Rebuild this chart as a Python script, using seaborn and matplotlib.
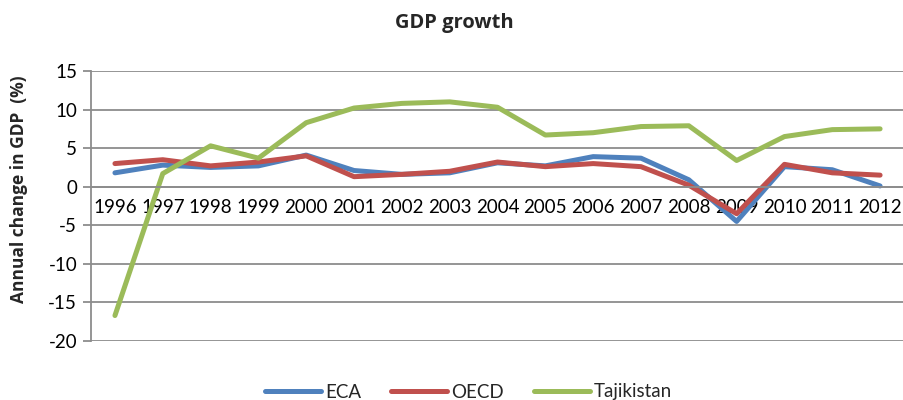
import matplotlib
matplotlib.use("Agg")
import matplotlib.pyplot as plt
import seaborn as sns
import pandas as pd
import numpy as np

years = ["1996", "1997", "1998", "1999", "2000", "2001", "2002", "2003", "2004",
         "2005", "2006", "2007", "2008", "2009", "2010", "2011", "2012"]
eca = [1.8, 2.8, 2.5, 2.7, 4.1, 2.1, 1.6, 1.8, 3.1, 2.7, 3.9, 3.7, 0.9, -4.5, 2.6, 2.2, 0.1]
oecd = [3.0, 3.5, 2.7, 3.2, 4.0, 1.3, 1.6, 2.0, 3.2, 2.6, 3.0, 2.6, 0.2, -3.5, 2.9, 1.8, 1.5]
tajikistan = [-16.7, 1.7, 5.3, 3.7, 8.3, 10.2, 10.8, 11.0, 10.3, 6.7, 7.0, 7.8, 7.9, 3.4, 6.5, 7.4, 7.5]
series_names = ["ECA", "OECD", "Tajikistan"]
colors = ["#4F81BD", "#C0504D", "#9BBB59"]

sns.set_theme(style="white")
plt.rcParams["font.family"] = ["Lato", "DejaVu Sans"]
plt.rcParams["axes.unicode_minus"] = False

idx = np.arange(len(years))
df = pd.concat([
    pd.DataFrame({"pos": idx, "value": vals, "series": name})
    for name, vals in zip(series_names, [eca, oecd, tajikistan])
])

fig = plt.figure(figsize=(9.04, 4.0), dpi=100)
ax = fig.add_axes([0.1007, 0.1475, 0.8993, 0.675])

sns.lineplot(data=df, x="pos", y="value", hue="series", palette=colors,
             hue_order=series_names, linewidth=3.6, ax=ax, legend=True,
             solid_capstyle="round", solid_joinstyle="round")

ax.set_xlim(-0.5, len(years) - 0.5)
ax.set_ylim(-20, 15)
ax.set_yticks(np.arange(-20, 16, 5))
ax.yaxis.grid(True, color="#8C8C8C", linewidth=1.3)
ax.set_axisbelow(True)

for side in ["top", "right"]:
    ax.spines[side].set_visible(False)
ax.spines["left"].set_color("#8C8C8C")
ax.spines["left"].set_linewidth(1.3)
ax.spines["bottom"].set_position(("data", 0))
ax.spines["bottom"].set_color("#8C8C8C")
ax.spines["bottom"].set_linewidth(1.3)

ax.set_xticks(idx)
ax.set_xticklabels(years)
ax.set_xticks(np.arange(-0.5, len(years), 1.0), minor=True)
ax.tick_params(axis="x", which="major", length=0, pad=9, labelsize=13.5, colors="black")
ax.tick_params(axis="x", which="minor", length=6, width=1.3, direction="out", color="#8C8C8C")
ax.tick_params(axis="y", which="major", left=True, length=6, width=1.3, direction="out",
               color="#8C8C8C", labelsize=13.5, pad=4, labelcolor="black")
ax.set_xlabel("")
ax.set_ylabel("")

fig.text(0.503, 1 - 23 / 400, "GDP growth", ha="center", va="center",
         fontsize=14.5, fontweight="bold", family=["Open Sans", "DejaVu Sans"])
fig.text(0.021, 1 - 189 / 400, "Annual change in GDP  (%)", ha="center", va="center",
         rotation=90, rotation_mode="anchor", fontsize=12.5, fontweight="bold",
         family=["Open Sans", "DejaVu Sans"])

handles, labels = ax.get_legend_handles_labels()
ax.legend(handles, labels, loc="center", bbox_to_anchor=(0.518, 1 - 392 / 400),
          bbox_transform=fig.transFigure, ncol=3, frameon=False, fontsize=13.5,
          handlelength=3.0, handletextpad=0.2, columnspacing=1.6)

fig.savefig("out.png", dpi=100)
